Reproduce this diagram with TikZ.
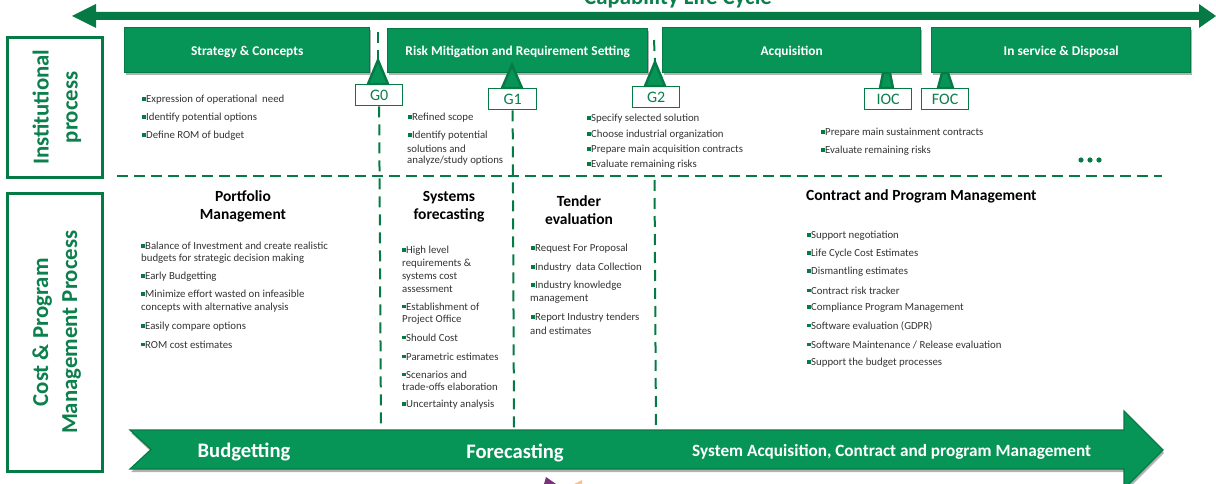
\documentclass[tikz,border=0pt]{standalone}
\usepackage{fontspec}
\setmainfont{Carlito}
\usetikzlibrary{shadows,arrows.meta}
\definecolor{gfill}{HTML}{079557}
\definecolor{gdark}{HTML}{067A45}
\definecolor{gtext}{HTML}{0B7F4C}
\definecolor{gblack}{HTML}{333333}
\tikzset{
  x=1pt,y=-1pt,
  phase/.style={draw=gdark,line width=1.4pt,fill=gfill,text=white,font=\fontsize{13.4}{15}\selectfont\bfseries,anchor=north west,inner sep=0,
     drop shadow={shadow xshift=1pt,shadow yshift=-2.5pt,fill=black,opacity=.3}},
  gatebox/.style={draw=gdark,line width=1.3pt,fill=white,text=gtext,font=\fontsize{16}{18}\selectfont,anchor=north west,inner sep=0,minimum height=21pt},
  gatetri/.style={draw=gdark,line width=2.4pt,fill=gfill,line join=miter},
  sidebox/.style={draw=gdark,line width=2.6pt,fill=white,anchor=north west,inner sep=0,
     drop shadow={shadow xshift=.5pt,shadow yshift=-1pt,fill=black,opacity=.25}},
  sidetext/.style={text=gtext,font=\fontsize{22.8}{29}\selectfont\bfseries,align=center,rotate=90},
  dashv/.style={draw=gdark,line width=2pt,dash pattern=on 11pt off 7pt},
  dashh/.style={draw=gdark,line width=2pt,dash pattern=on 11pt off 6pt},
  itemtext/.style={anchor=west,inner sep=0,text=gblack,font=\fontsize{10.8}{12}\selectfont,yshift=-1pt},
  headtext/.style={inner sep=0,text=black,font=\fontsize{15.5}{18}\selectfont\bfseries,align=center},
  bandtext/.style={inner sep=0,text=white,font=\fontsize{20.6}{22}\selectfont\bfseries},
}
\newcommand{\sqb}{\textcolor{gdark}{\rule[1.8pt]{3.6pt}{3.6pt}}\kern.4pt}
\newcommand{\bul}[4]{\node[itemtext] (#1) at (#2,#3) {\sqb #4};}
\newcommand{\pln}[4]{\node[itemtext] (#1) at (#2,#3) {#4};}
\newcommand{\low}[2]{\raisebox{-#1pt}[0pt][0pt]{#2}}
\begin{document}
\begin{tikzpicture}
\useasboundingbox (0,0) rectangle (1216,484);
\clip (0,0) rectangle (1216,484);
% top arrow
\fill[gdark] (72,16) -- (96,4) -- (96,12) -- (1199,12) -- (1199,4) -- (1216,16) -- (1199,28) -- (1199,20) -- (96,20) -- (96,28) -- cycle;
\node[inner sep=0,text=gtext,font=\fontsize{22.8}{25}\selectfont\bfseries] (title) at (678,-2) {Capability Life Cycle};
% fragment at the bottom edge
\fill[violet!70!black,opacity=.8] (544,484) -- (546,477) -- (556,484) -- cycle;
\fill[orange!60,opacity=.8] (574,484) -- (582,480) -- (582,484) -- cycle;
% side boxes
\node[sidebox,minimum width=95pt,minimum height=140pt] (inst) at (6,36) {};
\node[sidebox,minimum width=95pt,minimum height=278pt] (cost) at (6,192) {};
\node[sidetext] (instt) at ([xshift=2pt]inst.center) {Institutional\\process};
\node[sidetext] (costt) at ([xshift=2pt]cost.center) {Cost \& Program\\Management Process};
% separators
\coordinate (g0top) at (378,32);
\coordinate (g2top) at (654,40);
\coordinate (hl) at (117,176);
\coordinate (hr) at (1162,176);
\coordinate (g0end) at (381,430);
\coordinate (g1end) at (514,430);
\coordinate (g2end) at (656,430);
\draw[dashh] (hl) -- (hr);
% phases
\node[phase,minimum width=245pt,minimum height=45pt] (p1) at (124,27) {\low{5}{Strategy \& Concepts}};
\node[phase,minimum width=260pt,minimum height=44pt] (p2) at (387,28) {\low{5}{Risk Mitigation and Requirement Setting}};
\node[phase,minimum width=258pt,minimum height=45pt] (p3) at (662,27) {\low{5}{Acquisition}};
\node[phase,minimum width=259pt,minimum height=45pt] (p4) at (931,27) {\low{5}{In service \& Disposal}};
% gates
\coordinate (a0) at (378,60); \coordinate (a1) at (512,65); \coordinate (a2) at (655,62);
\node[gatebox,minimum width=47pt] (G0) at (355,84) {G0};
\node[gatebox,minimum width=48pt] (G1) at (488,88) {G1};
\node[gatebox,minimum width=47pt] (G2) at (632,86) {G2};
\node[gatebox,minimum width=47pt] (IOC) at (864,88) {IOC};
\node[gatebox,minimum width=47pt] (FOC) at (921,88) {FOC};
\draw[gatetri] (a0) -- (368,84) -- (388,84) -- cycle;
\draw[gatetri] (a1) -- (502,88) -- (522,88) -- cycle;
\draw[gatetri] (a2) -- (645,86) -- (665,86) -- cycle;
\draw[gatetri] (883,73) -- (880,88) -- (893,88) -- (890,73) -- cycle;
\draw[gatetri] (942,73) -- (938,88) -- (953,88) -- (948,73) -- cycle;
\draw[dashv] (g0top) -- (a0);
\draw[dashv] (g2top) -- (a2);
\draw[dashv] (G0.south) -- (g0end);
\draw[dashv] (G1.south) -- (g1end);
\draw[dashv] (654.5,180) -- (g2end);
% institutional items
\bul{a1a}{142}{99}{Expression of operational\ \ need}
\bul{a1b}{142}{117}{Identify potential options}
\bul{a1c}{142}{135}{Define ROM of budget}
\bul{a2a}{408}{117}{Refined scope}
\bul{a2b}{408}{135}{Identify potential}
\pln{a2c}{407}{148}{solutions and}
\pln{a2d}{407}{160}{analyze/study options}
\bul{a3a}{587}{118}{Specify selected solution}
\bul{a3b}{587}{134}{Choose industrial organization}
\bul{a3c}{587}{149}{Prepare main acquisition contracts}
\bul{a3d}{587}{164}{Evaluate remaining risks}
\bul{a4a}{821}{132}{Prepare main sustainment contracts}
\bul{a4b}{821}{150}{Evaluate remaining risks}
\fill[gdark] (1081,160) circle (2.6) (1090,160) circle (2.6) (1099,160) circle (2.6);
% heads
\node[headtext] (h1) at (243,206.5) {Portfolio\\Management};
\node[headtext] (h2) at (449,207) {Systems\\forecasting};
\node[headtext] (h3) at (579,210) {Tender\\evaluation};
\node[headtext,anchor=west] (h4) at (806,196.5) {Contract and Program Management};
% portfolio
\bul{b1a}{141}{245}{Balance of Investment and create realistic}
\pln{b1b}{141}{258}{budgets for strategic decision making}
\bul{b1c}{141}{276}{Early Budgetting}
\bul{b1d}{141}{293}{Minimize effort wasted on infeasible}
\pln{b1e}{141}{306.5}{concepts with alternative analysis}
\bul{b1f}{141}{325.5}{Easily compare options}
\bul{b1g}{141}{343.5}{ROM cost estimates}
% systems
\bul{b2a}{402}{250}{High level}
\pln{b2b}{402}{263}{requirements \&}
\pln{b2c}{402}{276}{systems cost}
\pln{b2d}{402}{288}{assessment}
\bul{b2e}{402}{305.5}{Establishment of}
\pln{b2f}{402}{318.5}{Project Office}
\bul{b2g}{402}{336.5}{Should Cost}
\bul{b2h}{402}{355.5}{Parametric estimates}
\bul{b2i}{402}{373.5}{Scenarios and}
\pln{b2j}{402}{385.5}{trade-offs elaboration}
\bul{b2k}{402}{403.5}{Uncertainty analysis}
% tender
\bul{b3a}{531}{248}{Request For Proposal}
\bul{b3b}{531}{267}{Industry\ \ data Collection}
\bul{b3c}{531}{285}{Industry knowledge}
\pln{b3d}{530}{298}{management}
\bul{b3e}{531}{317}{Report Industry tenders}
\pln{b3f}{530}{330}{and estimates}
% contract
\bul{b4a}{807}{235}{Support negotiation}
\bul{b4b}{807}{253}{Life Cycle Cost Estimates}
\bul{b4c}{807}{271}{Dismantling estimates}
\bul{b4d}{807}{289.5}{Contract risk tracker}
\bul{b4e}{807}{307}{Compliance Program Management}
\bul{b4f}{807}{325}{Software evaluation (GDPR)}
\bul{b4g}{807}{343.5}{Software Maintenance / Release evaluation}
\bul{b4h}{807}{361.5}{Support the budget processes}
% bottom arrow
\path[fill=gfill,draw=gdark,line width=1.2pt,drop shadow={shadow xshift=1pt,shadow yshift=-3pt,fill=black,opacity=.3}]
  (130,430) -- (1124,430) -- (1124,411) -- (1163,450) -- (1124,489) -- (1124,469) -- (130,469) -- (151,449.5) -- cycle;
\node[bandtext] (t1) at (244,452) {Budgetting};
\node[bandtext] (t2) at (515,453) {Forecasting};
\node[bandtext,anchor=west,font=\fontsize{17.2}{20}\selectfont\bfseries] (t3) at (692,451.5) {System Acquisition, Contract and program Management};
\end{tikzpicture}
\end{document}
